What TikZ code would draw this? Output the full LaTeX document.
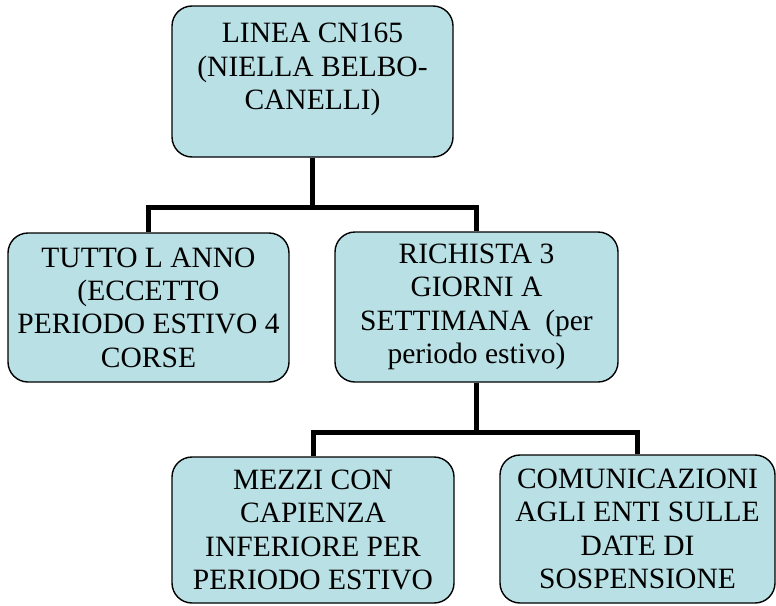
\documentclass[tikz,border=0pt]{standalone}
\usepackage{fontspec}
\setmainfont{Liberation Serif}
\definecolor{boxfill}{RGB}{185,224,228}
\begin{document}
\begin{tikzpicture}[x=1pt,y=1pt,
  box/.style={draw=black, line width=1.4pt, fill=boxfill, rounded corners=20pt,
    align=center, inner sep=0pt, font=\fontsize{29.5}{33.4}\selectfont},
  conn/.style={draw=black, line width=5pt}]
\useasboundingbox (0,0) rectangle (776,-605);
\node[box, minimum width=281pt, minimum height=151pt] (top) at (312.5,-81.5)
  {LINEA CN165\\(NIELLA BELBO-\\CANELLI)\\[-13.6pt]\strut};
\node[box, minimum width=281pt, minimum height=149pt] (left) at (148.5,-307.5)
  {TUTTO L ANNO\\(ECCETTO\\PERIODO ESTIVO 4\\CORSE};
\node[box, minimum width=283pt, minimum height=150pt] (mid) at (476.5,-307)
  {RICHISTA 3\\GIORNI A\\SETTIMANA\ \ (per\\periodo estivo)};
\node[box, minimum width=282pt, minimum height=146pt] (bl) at (313,-530)
  {MEZZI CON\\CAPIENZA\\INFERIORE PER\\PERIODO ESTIVO};
\node[box, minimum width=275pt, minimum height=148pt] (br) at (637.5,-529)
  {COMUNICAZIONI\\AGLI ENTI SULLE\\DATE DI\\SOSPENSIONE};
\coordinate (bus1) at (0,-207);
\coordinate (bus2) at (0,-432);
\draw[conn] (top.south) -- (top.south |- bus1);
\draw[conn] (left.north) -- (left.north |- bus1) -- (mid.north |- bus1) -- (mid.north);
\draw[conn] (mid.south) -- (mid.south |- bus2);
\draw[conn] (bl.north) -- (bl.north |- bus2) -- (br.north |- bus2) -- (br.north);
\end{tikzpicture}
\end{document}
